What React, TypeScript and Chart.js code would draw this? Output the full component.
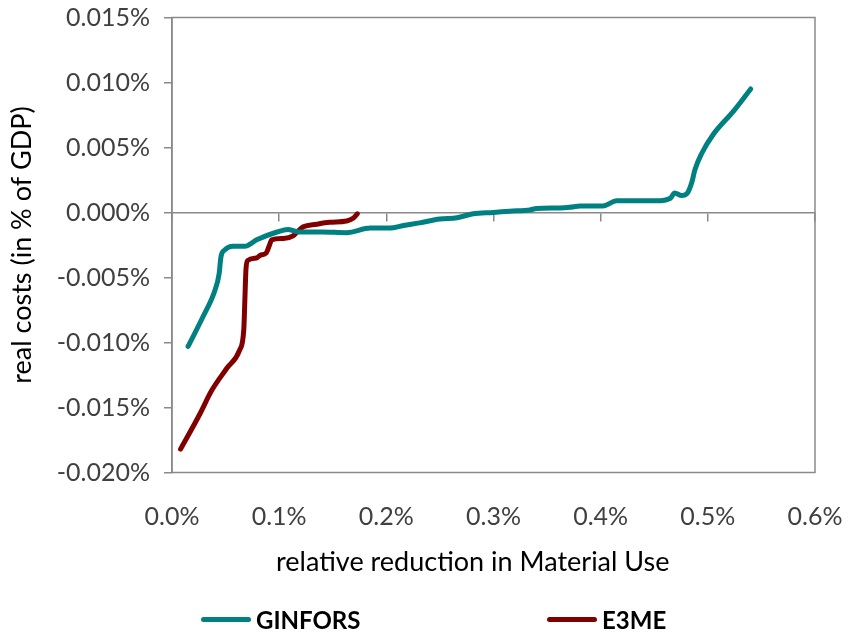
import { useEffect, useRef } from "react";
import { Chart, registerables } from "chart.js";

Chart.register(...registerables);

// ---- data (x: relative reduction in material use, %, y: real costs, % of GDP)
const SERIES_NAMES = ["GINFORS", "E3ME"];
const SERIES_COLORS = ["#008080", "#800000"];

const GINFORS_X = [
  0.015, 0.029, 0.040, 0.044, 0.0457, 0.049, 0.057, 0.068, 0.079, 0.098, 0.108,
  0.118, 0.140, 0.163, 0.185, 0.203, 0.216, 0.231, 0.250, 0.266, 0.281, 0.300,
  0.315, 0.334, 0.340, 0.362, 0.371, 0.381, 0.402, 0.415, 0.452, 0.465, 0.469,
  0.4755, 0.481, 0.485, 0.488, 0.494, 0.505, 0.524, 0.540,
];
const GINFORS_Y = [
  -0.0103, -0.0080, -0.0060, -0.0047, -0.0034, -0.0029, -0.0026, -0.0026, -0.0021,
  -0.0015, -0.0013, -0.0015, -0.0015, -0.00155, -0.0012, -0.0012, -0.0010, -0.0008,
  -0.0005, -0.0004, -0.0001, 0.0, 0.0001, 0.0002, 0.0003, 0.00035, 0.0004, 0.0005,
  0.0005, 0.0009, 0.0009, 0.0011, 0.0015, 0.0013, 0.0015, 0.0023, 0.0033, 0.0045,
  0.0060, 0.0078, 0.0095,
];

const E3ME_X = [
  0.008, 0.026, 0.037, 0.051, 0.063, 0.067, 0.068, 0.069, 0.0705, 0.079, 0.082,
  0.088, 0.091, 0.093, 0.104, 0.113, 0.118, 0.1225, 0.135, 0.147, 0.163, 0.169,
  0.173,
];
const E3ME_Y = [
  -0.0182, -0.0155, -0.0137, -0.0120, -0.0106, -0.0090, -0.0067, -0.0044, -0.0037,
  -0.0035, -0.0033, -0.0031, -0.0025, -0.0021, -0.0020, -0.0018, -0.0014, -0.0011,
  -0.0009, -0.00075, -0.00065, -0.00045, -0.0001,
];

const X_TICKS = [0, 0.1, 0.2, 0.3, 0.4, 0.5, 0.6];
const Y_TICKS = [-0.02, -0.015, -0.01, -0.005, 0, 0.005, 0.01, 0.015];
const X_TITLE = "relative reduction in Material Use";
const Y_TITLE = "real costs (in % of GDP)";

const AXIS_COLOR = "#8a8a8a";
const TICK_COLOR = "#404040";
const FONT = "Lato, 'DejaVu Sans', sans-serif";

const clean = (v: number) => (Math.abs(v) < 1e-9 ? 0 : v);

const zeroPad = (s: any) => {
  s.paddingLeft = 0;
  s.paddingRight = 0;
  s.paddingTop = 0;
  s.paddingBottom = 0;
};

const framePlugin = {
  id: "frame",
  beforeDatasetsDraw(chart: any) {
    const { ctx, chartArea } = chart;
    ctx.save();
    ctx.strokeStyle = AXIS_COLOR;
    ctx.lineWidth = 1.5;
    ctx.strokeRect(
      chartArea.left,
      chartArea.top,
      chartArea.right - chartArea.left,
      chartArea.bottom - chartArea.top
    );
    ctx.restore();
  },
};

function toPoints(xs: number[], ys: number[]) {
  return xs.map((x, i) => ({ x, y: ys[i] }));
}

export default function App() {
  const canvasRef = useRef<HTMLCanvasElement | null>(null);

  useEffect(() => {
    if (!canvasRef.current) return;
    const seriesData = [toPoints(GINFORS_X, GINFORS_Y), toPoints(E3ME_X, E3ME_Y)];
    const chart = new Chart(canvasRef.current, {
      type: "line",
      data: {
        datasets: SERIES_NAMES.map((name, i) => ({
          label: name,
          data: seriesData[i],
          borderColor: SERIES_COLORS[i],
          backgroundColor: SERIES_COLORS[i],
          borderWidth: 5,
          pointRadius: 0,
          pointHoverRadius: 0,
          cubicInterpolationMode: "monotone" as const,
          borderCapStyle: "round" as const,
          borderJoinStyle: "round" as const,
          fill: false,
          xAxisID: "x",
          yAxisID: "y",
        })),
      },
      options: {
        animation: false,
        responsive: true,
        maintainAspectRatio: false,
        layout: { padding: { top: 17.5, right: 33, left: 0, bottom: 0 } },
        plugins: {
          legend: { display: false },
          tooltip: { enabled: false },
        },
        scales: {
          x: {
            type: "linear",
            position: { y: 0 } as any,
            min: 0,
            max: 0.6,
            afterBuildTicks: (s: any) => {
              s.ticks = X_TICKS.map((v) => ({ value: v }));
            },
            ticks: { display: false },
            grid: {
              drawOnChartArea: false,
              drawTicks: true,
              tickLength: 8,
              color: AXIS_COLOR,
              lineWidth: 1.5,
            },
            border: { display: true, color: AXIS_COLOR, width: 1.5 },
            afterFit: zeroPad,
          },
          x2: {
            type: "linear",
            position: "bottom",
            min: 0,
            max: 0.6,
            afterBuildTicks: (s: any) => {
              s.ticks = X_TICKS.map((v) => ({ value: v }));
            },
            ticks: {
              color: TICK_COLOR,
              font: { family: FONT, size: 25 },
              padding: 29,
              maxRotation: 0,
              autoSkip: false,
              callback: (v: any) => clean(Number(v)).toFixed(1) + "%",
            },
            grid: { display: false, drawTicks: false },
            border: { display: false },
            title: {
              display: true,
              // trailing spaces move the centred title slightly left, as in the original
              text: X_TITLE + "      ",
              color: "#000000",
              font: { family: FONT, size: 27 },
              padding: { top: 0, bottom: 56 },
            },
            afterFit: (s: any) => {
              zeroPad(s);
              s.height = 161.5;
            },
          },
          y: {
            type: "linear",
            position: "left",
            min: -0.02,
            max: 0.015,
            afterBuildTicks: (s: any) => {
              s.ticks = Y_TICKS.map((v) => ({ value: v }));
            },
            ticks: {
              color: TICK_COLOR,
              font: { family: FONT, size: 25 },
              padding: 14,
              callback: (v: any) => clean(Number(v)).toFixed(3) + "%",
            },
            grid: {
              drawOnChartArea: false,
              drawTicks: true,
              tickLength: 8,
              color: AXIS_COLOR,
              lineWidth: 1.5,
            },
            border: { display: true, color: AXIS_COLOR, width: 1.5 },
            title: {
              display: true,
              text: Y_TITLE,
              color: "#000000",
              font: { family: FONT, size: 27 },
              padding: { top: 6, bottom: 0 },
            },
            afterFit: (s: any) => {
              zeroPad(s);
              s.width = 172;
            },
          },
        },
      },
      plugins: [framePlugin],
    });
    return () => chart.destroy();
  }, []);

  const legendLeft = [201, 547];

  return (
    <div
      style={{
        position: "absolute",
        left: 0,
        top: 0,
        width: 848,
        height: 634,
        background: "#ffffff",
        overflow: "hidden",
      }}
    >
      <canvas ref={canvasRef} />
      {SERIES_NAMES.map((name, i) => (
        <div
          key={name}
          style={{
            position: "absolute",
            left: legendLeft[i],
            top: 603,
            height: 32,
            display: "flex",
            alignItems: "center",
            fontFamily: FONT,
            fontWeight: 700,
            fontSize: 24,
            color: "#000000",
            whiteSpace: "nowrap",
          }}
        >
          <span
            style={{
              display: "inline-block",
              width: 50,
              height: 5,
              borderRadius: 3,
              background: SERIES_COLORS[i],
              marginRight: 5,
            }}
          />
          <span>{name}</span>
        </div>
      ))}
    </div>
  );
}
